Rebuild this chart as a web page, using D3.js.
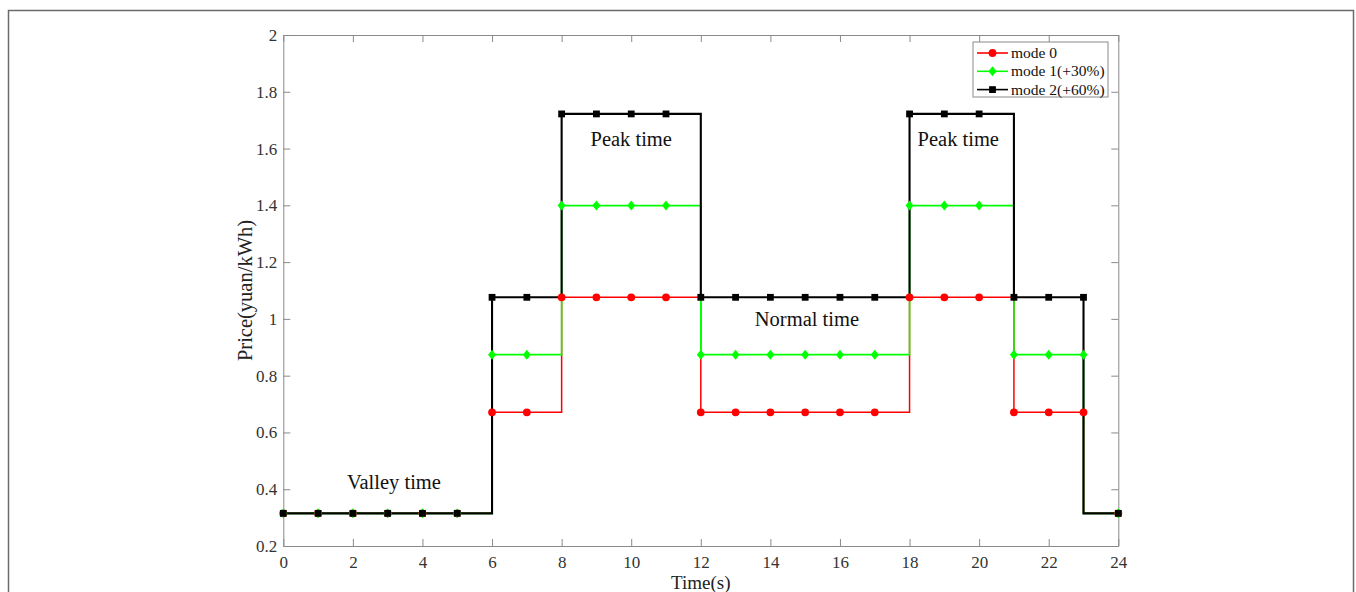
<!DOCTYPE html>
<html><head><meta charset="utf-8">
<script src="https://cdn.jsdelivr.net/npm/d3@7"></script>
<style>html,body{margin:0;padding:0;background:#fff;}svg{display:block;}</style>
</head><body>
<svg id="chart" width="1356" height="592"></svg>
<script>
// ---- data ----
const hours = d3.range(0, 25);
const mode0 = [0.315,0.315,0.315,0.315,0.315,0.315, 0.671,0.671, 1.076,1.076,1.076,1.076, 0.671,0.671,0.671,0.671,0.671,0.671, 1.076,1.076,1.076, 0.671,0.671,0.671, 0.315];
const mode1 = [0.315,0.315,0.315,0.315,0.315,0.315, 0.874,0.874, 1.399,1.399,1.399,1.399, 0.874,0.874,0.874,0.874,0.874,0.874, 1.399,1.399,1.399, 0.874,0.874,0.874, 0.315];
const mode2 = [0.315,0.315,0.315,0.315,0.315,0.315, 1.076,1.076, 1.722,1.722,1.722,1.722, 1.076,1.076,1.076,1.076,1.076,1.076, 1.722,1.722,1.722, 1.076,1.076,1.076, 0.315];
const seriesNames = ["mode 0", "mode 1(+30%)", "mode 2(+60%)"];
const xTicks = d3.range(0, 25, 2);
const yTicks = [0.2,0.4,0.6,0.8,1,1.2,1.4,1.6,1.8,2];
const annotations = [
  {text: "Peak time", x: 10, y: 1.609},
  {text: "Peak time", x: 19.4, y: 1.609},
  {text: "Normal time", x: 15.05, y: 0.975},
  {text: "Valley time", x: 3.18, y: 0.401}
];

// ---- layout ----
const svg = d3.select("#chart");
const L = 283.3, R = 1118.3, T = 35, B = 546;
const x = d3.scaleLinear().domain([0, 24]).range([L, R]);
const y = d3.scaleLinear().domain([0.2, 2]).range([B, T]);
const font = "'Liberation Serif','Times New Roman',serif";
const axisColor = "#8a8a8a";

// outer frame
svg.append("path").attr("d", "M8.5,600 V10.5 H1353.5 V600")
  .attr("fill", "none").attr("stroke", "#6b6b6b").attr("stroke-width", 1.5);

// axes box and ticks
function styleAxis(g) {
  g.attr("font-family", font).attr("font-size", 17);
  g.select(".domain").attr("stroke", axisColor);
  g.selectAll(".tick line").attr("stroke", axisColor);
  g.selectAll(".tick text").attr("fill", "#333").style("font-family", font).style("font-size", "17px");
}
const gx = svg.append("g").attr("transform", `translate(0,${B})`)
  .call(d3.axisBottom(x).tickValues(xTicks).tickSize(-7).tickSizeOuter(0).tickPadding(10).tickFormat(d3.format("d")));
styleAxis(gx);
const gxt = svg.append("g").attr("transform", `translate(0,${T})`)
  .call(d3.axisTop(x).tickValues(xTicks).tickSize(-7).tickSizeOuter(0).tickFormat(""));
styleAxis(gxt);
const gy = svg.append("g").attr("transform", `translate(${L},0)`)
  .call(d3.axisLeft(y).tickValues(yTicks).tickSize(-7).tickSizeOuter(0).tickPadding(6).tickFormat(d => d3.format("~g")(d)));
styleAxis(gy);
const gyr = svg.append("g").attr("transform", `translate(${R},0)`)
  .call(d3.axisRight(y).tickValues(yTicks).tickSize(-7).tickSizeOuter(0).tickFormat(""));
styleAxis(gyr);

// axis labels
svg.append("text").attr("x", (L + R) / 2).attr("y", 589).attr("text-anchor", "middle")
  .attr("font-family", font).attr("font-size", 19).attr("fill", "#222").text("Time(s)");
svg.append("text").attr("transform", `translate(252,${(T + B) / 2}) rotate(-90)`).attr("text-anchor", "middle")
  .attr("font-family", font).attr("font-size", 20.5).attr("fill", "#222").text("Price(yuan/kWh)");

// stepped path vertices: step after, last segment drops at hour 23
function stepVerts(vals) {
  const pts = [[hours[0], vals[0]]];
  const n = vals.length;
  for (let i = 1; i < n - 1; i++) {
    pts.push([hours[i], vals[i - 1]]);
    pts.push([hours[i], vals[i]]);
  }
  pts.push([hours[n - 2], vals[n - 1]]);
  pts.push([hours[n - 1], vals[n - 1]]);
  return pts;
}
const line = d3.line().x(d => x(d[0])).y(d => y(d[1]));

const series = [
  {vals: mode0, color: "#ff0000", marker: "circle", width: 1.5},
  {vals: mode1, color: "#00ff00", marker: "diamond", width: 1.6},
  {vals: mode2, color: "#000000", marker: "square", width: 2.1}
];

series.forEach(s => {
  svg.append("path").attr("d", line(stepVerts(s.vals)))
    .attr("fill", "none").attr("stroke", s.color).attr("stroke-width", s.width);
});
function drawMarker(g, type, cx, cy, color) {
  if (type === "circle") g.append("circle").attr("cx", cx).attr("cy", cy).attr("r", 3.9).attr("fill", color);
  else if (type === "diamond") g.append("path").attr("d", `M${cx},${cy-5} L${cx+4},${cy} L${cx},${cy+5} L${cx-4},${cy} Z`).attr("fill", color);
  else g.append("rect").attr("x", cx - 3.4).attr("y", cy - 3.4).attr("width", 6.8).attr("height", 6.8).attr("fill", color);
}
series.forEach(s => {
  const g = svg.append("g");
  s.vals.forEach((v, i) => drawMarker(g, s.marker, x(hours[i]), y(v), s.color));
});

// annotations
annotations.forEach(a => {
  svg.append("text").attr("x", x(a.x)).attr("y", y(a.y)).attr("text-anchor", "middle")
    .attr("font-family", font).attr("font-size", 20.5).attr("fill", "#111").text(a.text);
});

// legend
const lg = svg.append("g");
const lx = 973, ly = 42, lw = 135, lh = 55;
lg.append("rect").attr("x", lx).attr("y", ly).attr("width", lw).attr("height", lh)
  .attr("fill", "#fff").attr("stroke", axisColor).attr("stroke-width", 1);
series.forEach((s, i) => {
  const cy = ly + 11 + i * 18.3;
  lg.append("line").attr("x1", lx + 4).attr("x2", lx + 35).attr("y1", cy).attr("y2", cy)
    .attr("stroke", s.color).attr("stroke-width", 1.6);
  drawMarker(lg, s.marker, lx + 19.5, cy, s.color);
  lg.append("text").attr("x", lx + 38).attr("y", cy + 5).attr("font-family", font)
    .attr("font-size", 15.5).attr("fill", "#111").text(seriesNames[i]);
});
</script>
</body></html>
